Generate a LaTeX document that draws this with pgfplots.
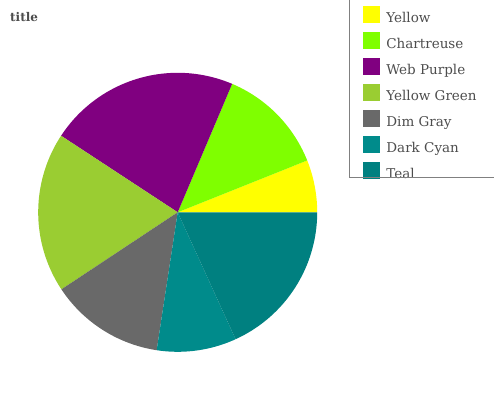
\documentclass[border=0pt]{standalone}
\usepackage{pgfplots}
\pgfplotsset{compat=1.18}
\usepackage{pgfplotstable}
\usepackage{fontspec}
\setmainfont{DejaVu Serif}
\definecolor{cYellow}{HTML}{FFFF00}
\definecolor{cChartreuse}{HTML}{7FFF00}
\definecolor{cWebPurple}{HTML}{800080}
\definecolor{cYellowGreen}{HTML}{9ACD32}
\definecolor{cDimGray}{HTML}{696969}
\definecolor{cDarkCyan}{HTML}{008B8B}
\definecolor{cTeal}{HTML}{008080}
\definecolor{txt}{HTML}{4D4D4D}
\pgfplotstableread{
name value
Yellow 6.06
Chartreuse 12.56
WebPurple 22.14
YellowGreen 18.56
DimGray 13.28
DarkCyan 9.22
Teal 18.19
}\piedata
\newcommand\legfont{\fontsize{13.5bp}{16bp}\selectfont}
\begin{document}%
\begin{tikzpicture}
\pgfplotstablegetelem{0}{value}\of\piedata\let\vA\pgfplotsretval
\pgfplotstablegetelem{1}{value}\of\piedata\let\vB\pgfplotsretval
\pgfplotstablegetelem{2}{value}\of\piedata\let\vC\pgfplotsretval
\pgfplotstablegetelem{3}{value}\of\piedata\let\vD\pgfplotsretval
\pgfplotstablegetelem{4}{value}\of\piedata\let\vE\pgfplotsretval
\pgfplotstablegetelem{5}{value}\of\piedata\let\vF\pgfplotsretval
\pgfplotstablegetelem{6}{value}\of\piedata\let\vG\pgfplotsretval
\pgfmathsetmacro\tot{\vA+\vB+\vC+\vD+\vE+\vF+\vG}
\pgfmathsetmacro\aA{0}
\pgfmathsetmacro\aB{\aA+360*\vA/\tot}
\pgfmathsetmacro\aC{\aB+360*\vB/\tot}
\pgfmathsetmacro\aD{\aC+360*\vC/\tot}
\pgfmathsetmacro\aE{\aD+360*\vD/\tot}
\pgfmathsetmacro\aF{\aE+360*\vE/\tot}
\pgfmathsetmacro\aG{\aF+360*\vF/\tot}
\pgfmathsetmacro\aH{360}
\begin{axis}[
  at={(177.7bp,187.7bp)}, anchor=center,
  scale only axis, width=279bp, height=279bp,
  xmin=-1, xmax=1, ymin=-1, ymax=1,
  hide axis, clip=false,
  legend style={at={(axis description cs:1.152,1.248)}, anchor=north west,
    draw=none, fill=none, row sep=6bp, column sep=6.6bp,
    font=\legfont, text=txt,
    nodes={inner sep=0pt, text height=11bp, text depth=3bp}},
  legend cell align=left,
  legend image code/.code={\fill[#1] (0bp,-4bp) rectangle (17bp,13bp);},
]
\addplot[fill=cYellow, draw=none, domain=\aA:\aB, samples=40] ({cos(x)},{sin(x)}) -- (axis cs:0,0) -- cycle;
\addlegendentry{Yellow}
\addplot[fill=cChartreuse, draw=none, domain=\aB:\aC, samples=40] ({cos(x)},{sin(x)}) -- (axis cs:0,0) -- cycle;
\addlegendentry{Chartreuse}
\addplot[fill=cWebPurple, draw=none, domain=\aC:\aD, samples=60] ({cos(x)},{sin(x)}) -- (axis cs:0,0) -- cycle;
\addlegendentry{Web Purple}
\addplot[fill=cYellowGreen, draw=none, domain=\aD:\aE, samples=60] ({cos(x)},{sin(x)}) -- (axis cs:0,0) -- cycle;
\addlegendentry{Yellow Green}
\addplot[fill=cDimGray, draw=none, domain=\aE:\aF, samples=40] ({cos(x)},{sin(x)}) -- (axis cs:0,0) -- cycle;
\addlegendentry{Dim Gray}
\addplot[fill=cDarkCyan, draw=none, domain=\aF:\aG, samples=40] ({cos(x)},{sin(x)}) -- (axis cs:0,0) -- cycle;
\addlegendentry{Dark Cyan}
\addplot[fill=cTeal, draw=none, domain=\aG:\aH, samples=60] ({cos(x)},{sin(x)}) -- (axis cs:0,0) -- cycle;
\addlegendentry{Teal}
\end{axis}
\node[anchor=base west, inner sep=0pt, text=txt, font=\bfseries\fontsize{12bp}{14bp}\selectfont] at (10bp,378.3bp) {title};
\draw[gray, line width=0.8bp] (349bp,410bp) -- (349bp,223bp) -- (510bp,223bp);
\pgfresetboundingbox
\useasboundingbox (0,0) rectangle (494bp,400bp);
\end{tikzpicture}%
\end{document}
